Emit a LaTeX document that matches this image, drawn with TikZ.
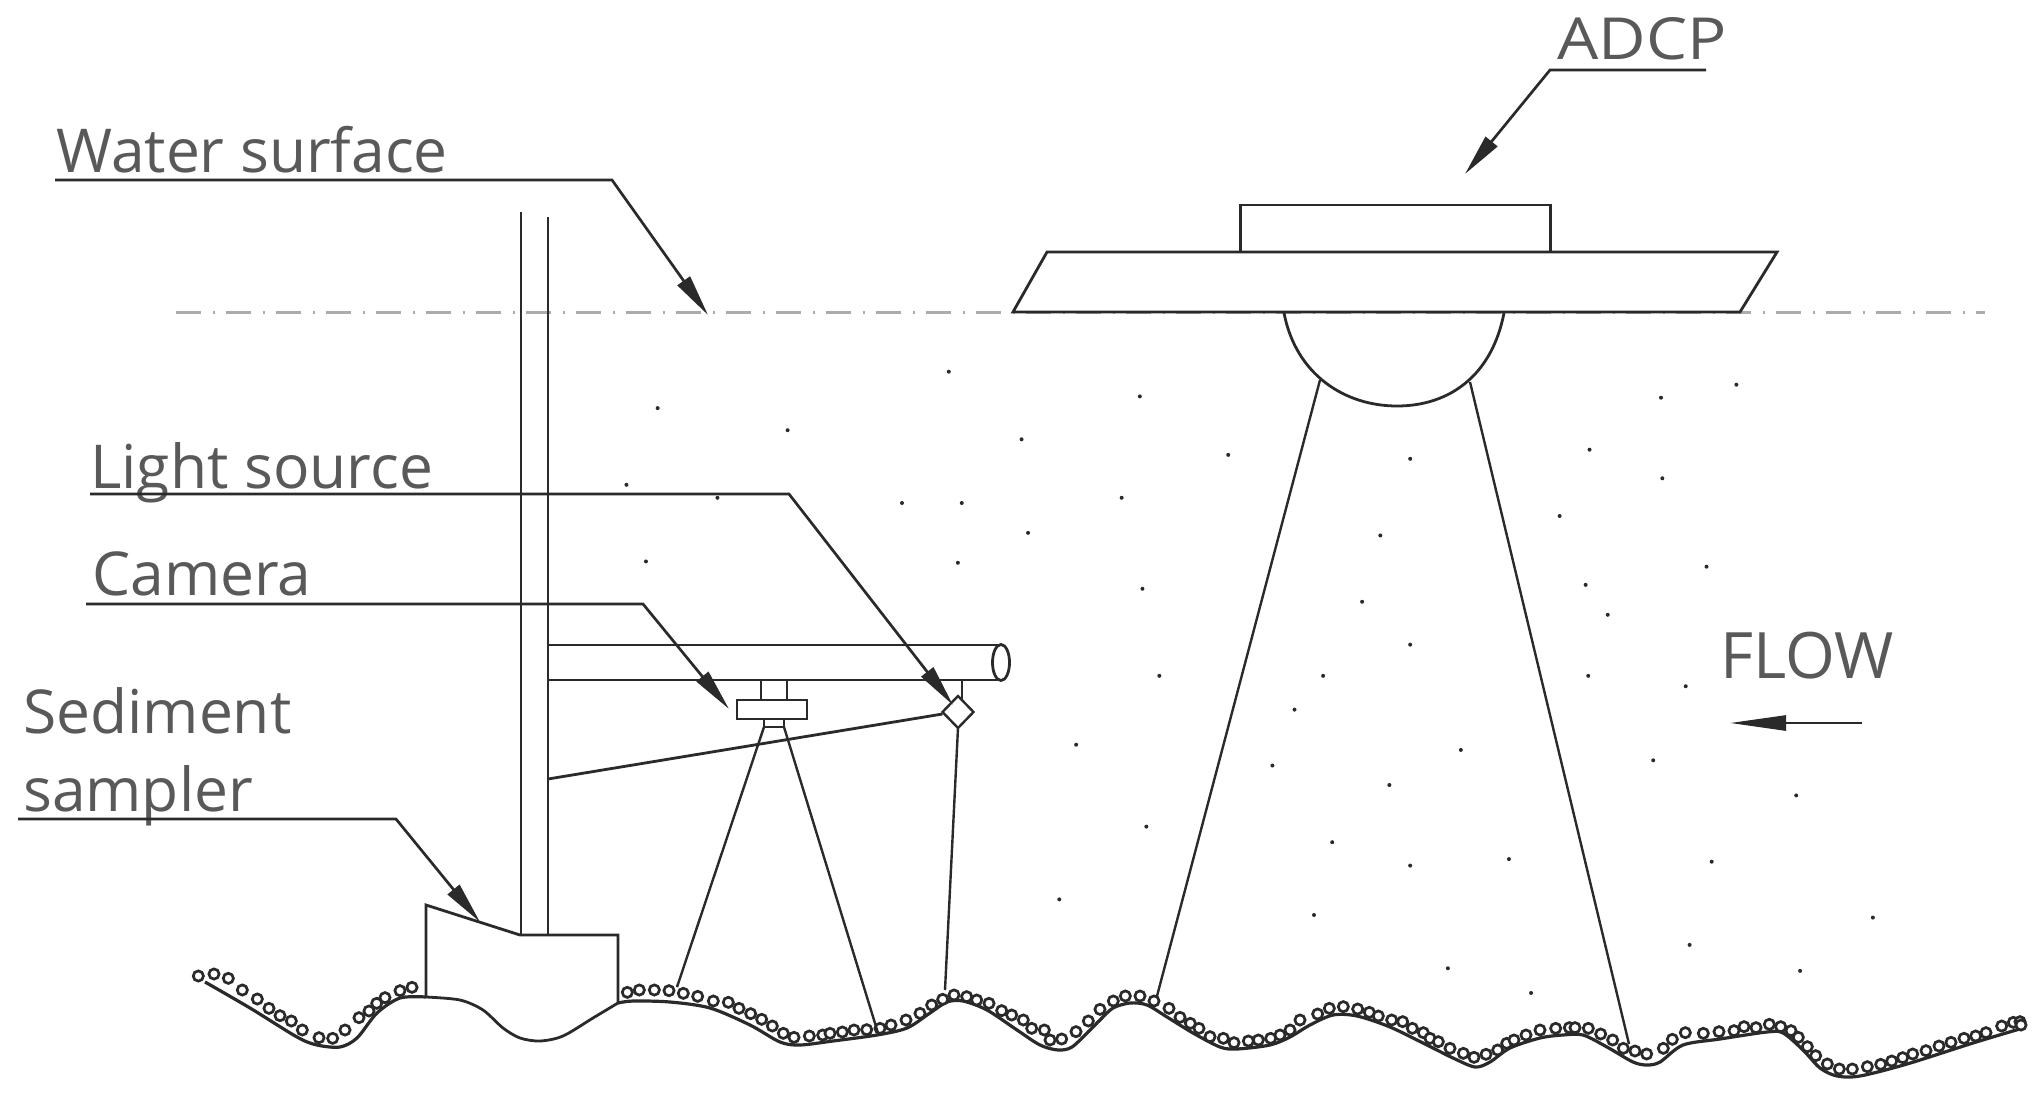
\documentclass[tikz,border=0pt]{standalone}
\usepackage{fontspec}
\usepackage{graphicx}
\setmainfont{Open Sans}
\usetikzlibrary{arrows.meta}
\definecolor{labelgrey}{HTML}{595959}
\definecolor{wline}{HTML}{ABABAB}
\definecolor{ink}{HTML}{2A2A2A}
\tikzset{
  labeltext/.style={anchor=base west,inner sep=0pt,text=labelgrey,font=\fontsize{60.5}{64}\selectfont},
  bigtext/.style={labeltext,font=\fontsize{64}{68}\selectfont},
  smalltext/.style={labeltext,font=\fontsize{58}{62}\selectfont},
  part/.style={draw=ink,line width=2.8pt,line join=miter},
  thin part/.style={draw=ink,line width=2.4pt},
  leader/.style={draw=ink,line width=2.7pt,-{Triangle[length=42pt,width=15pt]}},
  grain/.style={draw=ink,fill=white,line width=2.7pt},
}
\newcommand{\grainset}[3]{\foreach \X/\Y in {#3} \draw[grain] ({#1+\X/3},{#2+\Y/3}) circle[radius=5.1pt];}
\begin{document}
\begin{tikzpicture}[x=1pt,y=-1pt]
\useasboundingbox[fill=white] (0,0) rectangle (2038,1097);
% water surface
\draw[wline,line width=3pt,dash pattern=on 25pt off 12pt on 2pt off 11pt] (176,312.5) -- (1985,312.5);
% suspended sediment specks
\foreach \x/\y in {730/286,877/305,506/314,606/331,786/338,945/350,1085/353,1223/346,1278/306,1336/296,1279/368,482/373,552/383,694/387,740/387,863/383,1200/397,1062/412,791/410,497/432,737/433,1313/436,1220/450,879/453,1048/463,1237/473,1085/496,892/520,1018/520,1222/520,1297/528,996/546,828/573,1124/577,979/589,1272/585,1069/604,1382/612,882/636,1025/648,1161/661,1085/666,1317/663,815/692,1011/704,1441/706,1300/727,1114/745,1385/747,1178/764}
  \fill[ink] (\x*1.2997,\y*1.2997) circle[radius=2pt];
% bed
\draw[part,line width=3.2pt] plot[smooth,tension=0.5] coordinates {(205,982) (250,1008) (297,1037) (317,1045) (340,1047) (357,1038) (377,1013) (400,998) (426,997)};
\draw[part] plot[smooth,tension=0.5] coordinates {(426,997) (460,1000) (483,1010) (503,1028) (520,1038) (540,1041) (563,1036) (593,1018) (618,1003)};
\draw[part,line width=3.2pt] plot[smooth,tension=0.5] coordinates {(618,1003) (633,1001) (670,1002) (710,1008) (750,1025) (780,1042) (800,1045) (833,1041) (877,1035) (907,1028) (930,1013) (947,1002) (963,1001) (987,1010) (1017,1030) (1040,1045) (1058,1050) (1072,1047) (1090,1030) (1100,1020) (1113,1008) (1130,1003) (1147,1005) (1167,1017) (1193,1033) (1220,1047) (1237,1049) (1270,1045) (1290,1037) (1310,1025) (1333,1015) (1357,1016) (1390,1027) (1427,1045) (1453,1058) (1475,1067) (1490,1062) (1510,1048) (1540,1038) (1563,1035) (1583,1035) (1607,1047) (1633,1062) (1647,1065) (1660,1062) (1683,1045) (1720,1039) (1767,1032) (1783,1033) (1803,1050) (1820,1068) (1837,1076) (1860,1076) (1907,1064) (1973,1043) (2023,1028)};
% grains
\grainset{150}{950}{145/78,192/72,235/85,277/120,322/147,357/175,390/197,424/213,457/240,507/263,548/265,585/240,627/203,657/183,680/160,705/143,750/122,786/112}
\grainset{600}{970}{82/67,118/60,163/60,207/62,250/70,293/79,340/93,385/97,417/115,452/131,485/148,517/168,550/190,582/202,628/198,668/195,690/190,727/186,762/180,800/179,840/175,873/165,918/150,960/130,995/105,1028/88,1062/75,1100/80,1130/90,1167/100,1205/122,1235/135,1270/150,1295/175,1333/180,1350/210,1385/207,1428/185}
\grainset{1080}{970}{25/153,60/118,100/93,136/78,180/78,222/93,267/115,300/142,331/160,357/175,390/200,430/205,462/218,505/213,535/210,572/205,600/195,630/180,660/150,713/132,748/115,790/110,833/117,868/127,895/138,935/150,968/155,997/175,1030/188,1050/205,1075/215,1110/235,1150/250,1182/262,1218/253,1253/240,1280/220,1302/210,1338/195,1380/180}
\grainset{1540}{990}{47/115,88/113,105/113,145/115,182/132,218/150,250/175,285/183,320/192,370/175,397/148,436/128,490/130,537/125,582/122,612/110,648/113,688/103,722/110,753/122,775/142,802/170,827/197,862/222,898/237,937/237,982/230,1022/223,1055/213,1088/203,1118/192,1158/182,1197/168,1233/157,1272/145,1307/138,1338/128,1385/108,1420/97,1440/95,1443/105}
% boat and ADCP
\draw[part,fill=white] (1047,252) -- (1777,252) -- (1740,312) -- (1013,312) -- cycle;
\draw[part] (1240.5,205) rectangle (1550.5,252);
\draw[part] (1284,313) .. controls (1296,375) and (1345,406) .. (1397,406) .. controls (1450,406) and (1492,375) .. (1504,313);
\coordinate (adcpL) at (1320,380);
\coordinate (adcpR) at (1470,382);
\coordinate (bedL) at (1157,996);
\coordinate (bedR) at (1629,1044);
\draw[thin part] (adcpL) -- (bedL);
\draw[thin part] (adcpR) -- (bedR);
% pole, sampler
\draw[part] (521,212) -- (521,935);
\draw[part] (548,217) -- (548,935);
\draw[part] (426,997) -- (426,905) -- (520,935) -- (618,935) -- (618,1003);
% arm
\draw[part] (548,645) -- (1000,645);
\draw[part] (548,680) -- (1000,680);
\draw[part] (1001,662.5) ellipse[x radius=8.5pt,y radius=18pt];
% camera
\draw[part] (761,680) -- (761,700);
\draw[part] (787,680) -- (787,700);
\draw[part] (737,700) rectangle (807,719);
\draw[part] (764,719) rectangle (784,727);
\coordinate (camL) at (764,727);
\coordinate (camR) at (784,727);
\coordinate (fovL) at (677,987);
\coordinate (fovR) at (878,1033);
\draw[thin part] (camL) -- (fovL);
\draw[thin part] (camR) -- (fovR);
% light
\draw[part] (962,680) -- (962,700);
\draw[part,line width=2.4pt,fill=white] (958,696) -- (973.5,712) -- (958,728) -- (942.5,712) -- cycle;
\coordinate (lampB) at (958,728);
\coordinate (lampL) at (942.5,714);
\coordinate (lightEnd) at (945,990);
\coordinate (braceS) at (548,779);
\draw[thin part] (lampB) -- (lightEnd);
\draw[part] (braceS) -- (lampL);
% labels
\node[smalltext] (adcp) at (1557,60) {\scalebox{1.125}[1]{ADCP}};
\node[labeltext] (water) at (56,172) {Water surface};
\node[labeltext] (light) at (90,488) {Light source};
\node[labeltext] (camera) at (92,595) {Camera};
\node[labeltext] (sed) at (23,733) {Sediment};
\node[labeltext] (samp) at (23,811) {sampler};
\node[bigtext] (flow) at (1720,678) {FLOW};
% leaders
\coordinate (a0) at (1706,70); \coordinate (a1) at (1550,70); \coordinate (a2) at (1465,174);
\coordinate (w0) at (55,180); \coordinate (w1) at (612,180); \coordinate (w2) at (708,315);
\coordinate (l0) at (90,494); \coordinate (l1) at (789,494); \coordinate (l2) at (953,705);
\coordinate (c0) at (86,604); \coordinate (c1) at (643,604); \coordinate (c2) at (729,709);
\coordinate (s0) at (18,819); \coordinate (s1) at (396,819); \coordinate (s2) at (480,922);
\coordinate (f0) at (1862,723); \coordinate (f1) at (1730,723);
\draw[leader] (a0) -- (a1) -- (a2);
\draw[leader] (w0) -- (w1) -- (w2);
\draw[leader] (l0) -- (l1) -- (l2);
\draw[leader] (c0) -- (c1) -- (c2);
\draw[leader] (s0) -- (s1) -- (s2);
\draw[draw=ink,line width=2.7pt,-{Triangle[length=56pt,width=15pt]}] (f0) -- (f1);
\end{tikzpicture}
\end{document}
